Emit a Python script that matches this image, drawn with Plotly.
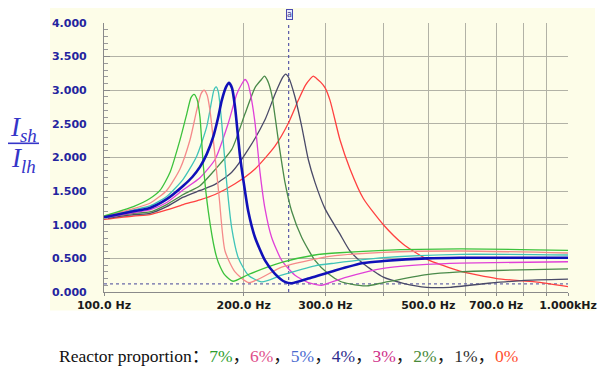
import plotly.graph_objects as go

# ---------------- data ----------------
freq_7 = [100, 115.7, 125.6, 132.0, 138.8, 145.8, 150.8, 154.0, 156.3, 158.6, 161.0, 163.7, 167.8, 173.5, 176.4, 182.3, 189.7, 204.6, 241.5, 284.9, 314.8, 400, 585, 1000]
val_7 = [1.13, 1.27, 1.39, 1.51, 1.78, 2.26, 2.65, 2.89, 2.94, 2.87, 2.60, 1.88, 1.20, 0.61, 0.44, 0.25, 0.16, 0.26, 0.44, 0.55, 0.58, 0.62, 0.64, 0.62]

freq_6 = [100, 115.7, 125.6, 136.5, 145.8, 153.2, 158.4, 161.9, 164.3, 166.8, 169.2, 173.5, 177.2, 182.3, 191.6, 205.4, 241.5, 284.9, 314.8, 400, 585, 1000]
val_6 = [1.12, 1.24, 1.32, 1.51, 1.83, 2.26, 2.70, 2.95, 3.00, 2.93, 2.70, 2.02, 1.39, 0.61, 0.30, 0.14, 0.37, 0.49, 0.54, 0.59, 0.61, 0.58]

freq_5 = [100, 115.7, 125.6, 136.5, 148.2, 158.4, 166.5, 170.7, 172.5, 174.4, 176.3, 179.4, 183.8, 188.5, 194.7, 204.6, 218.7, 241.5, 284.9, 314.8, 400, 585, 1000]
val_5 = [1.12, 1.22, 1.28, 1.42, 1.68, 2.02, 2.46, 2.85, 3.00, 3.05, 2.98, 2.51, 1.63, 0.95, 0.51, 0.25, 0.15, 0.25, 0.39, 0.43, 0.51, 0.56, 0.55]

freq_4 = [100, 115.7, 125.6, 136.5, 148.2, 155.0, 161.0, 166.5, 172.0, 176.0, 179.4, 183.3, 186.0, 188.8, 191.6, 196.4, 200.0, 204.6, 211.6, 222.3, 233.6, 245.5, 253.8, 275.6, 314.8, 362.2, 400, 496, 585, 1000]
val_4 = [1.11, 1.20, 1.25, 1.38, 1.58, 1.71, 1.86, 2.05, 2.31, 2.58, 2.85, 3.05, 3.11, 3.03, 2.75, 2.02, 1.63, 1.20, 0.81, 0.47, 0.27, 0.15, 0.13, 0.20, 0.32, 0.43, 0.46, 0.50, 0.51, 0.51]

freq_3 = [100, 115.7, 125.6, 136.5, 148.2, 161.0, 173.5, 185.3, 193.2, 198.4, 201.3, 204.3, 208.1, 211.6, 216.9, 222.3, 229.8, 241.5, 258.0, 275.6, 294.5, 307, 333.5, 400, 496, 585, 1000]
val_3 = [1.10, 1.18, 1.22, 1.33, 1.52, 1.70, 1.97, 2.51, 2.94, 3.10, 3.16, 3.10, 2.85, 2.51, 1.78, 1.24, 0.81, 0.47, 0.25, 0.14, 0.10, 0.14, 0.22, 0.35, 0.41, 0.43, 0.45]

freq_2 = [100, 115.7, 125.6, 136.5, 148.2, 161.0, 173.5, 188.5, 201.3, 211.6, 218.4, 221.6, 224.9, 229.8, 237.5, 245.5, 253.8, 266.8, 284.9, 304.4, 322.6, 339, 368.5, 400, 496, 585, 702, 1000]
val_2 = [1.10, 1.17, 1.19, 1.30, 1.45, 1.58, 1.82, 2.12, 2.65, 3.04, 3.16, 3.21, 3.15, 2.94, 2.26, 1.63, 1.20, 0.81, 0.47, 0.27, 0.16, 0.12, 0.09, 0.14, 0.26, 0.30, 0.32, 0.345]

freq_1 = [100, 115.7, 125.6, 136.5, 148.2, 161.0, 173.5, 188.5, 204.6, 222.3, 233.6, 242.7, 246.3, 250.0, 258.0, 266.8, 275.6, 284.9, 299.4, 314.8, 322.6, 339, 362.2, 400, 441.6, 496, 556.8, 673, 794.7, 1000]
val_1 = [1.09, 1.15, 1.17, 1.27, 1.41, 1.51, 1.60, 1.78, 2.12, 2.56, 2.94, 3.19, 3.24, 3.19, 2.90, 2.46, 1.97, 1.63, 1.24, 0.98, 0.86, 0.61, 0.42, 0.22, 0.13, 0.07, 0.07, 0.13, 0.17, 0.19]

freq_0 = [100, 115.7, 125.6, 136.5, 148.2, 161.0, 173.5, 191.6, 211.6, 233.6, 249.6, 262.2, 272.0, 278.3, 282.5, 286.7, 293.0, 299.4, 307, 322.6, 339, 362.2, 400, 441.6, 496, 585, 702, 850, 1000]
val_0 = [1.08, 1.13, 1.15, 1.22, 1.30, 1.37, 1.45, 1.61, 1.83, 2.17, 2.51, 2.85, 3.08, 3.17, 3.21, 3.18, 3.12, 3.04, 2.85, 2.26, 1.83, 1.39, 1.00, 0.71, 0.49, 0.31, 0.20, 0.15, 0.08]

cursor_freq = 250
cursor_level = 0.12
freq_range = [100, 1000]

x_tickvals = [100, 200, 300, 500, 700, 1000]
x_ticktext = ["100.0 Hz", "200.0 Hz", "300.0 Hz", "500.0 Hz", "700.0 Hz", "1.000kHz"]
x_minor_gridvals = [400, 600, 800, 900]

series_labels = ["7%", "6%", "5%", "4%", "3%", "2%", "1%", "0%"]
line_colors = ["#3cc23c", "#f58a8a", "#3fc4b8", "#1010b8", "#e040d8", "#4a8a4a", "#4a4a68", "#ff4040"]
label_colors = ["#2e9e2e", "#e0508a", "#4a6ad0", "#2c2c8c", "#d0308a", "#4a8a3a", "#303030", "#ff5030"]

# ---------------- figure ----------------
cream = "#fdfde8"
grid = "#b2b2a6"
fig = go.Figure()

# cursor lines
fig.add_trace(go.Scatter(x=freq_range, y=[cursor_level, cursor_level], mode="lines",
                         line=dict(color="#6a6aa8", width=1.2, dash="dot"), hoverinfo="skip"))
fig.add_trace(go.Scatter(x=[cursor_freq, cursor_freq], y=[0, 4], mode="lines",
                         line=dict(color="#5a5aa8", width=1.2, dash="dot"), hoverinfo="skip"))

series = [
    (freq_0, val_0, 7), (freq_1, val_1, 6), (freq_2, val_2, 5), (freq_3, val_3, 4),
    (freq_5, val_5, 2), (freq_6, val_6, 1), (freq_7, val_7, 0), (freq_4, val_4, 3),
]
for fx, fy, idx in series:
    fig.add_trace(go.Scatter(
        x=fx, y=fy, mode="lines", name=series_labels[idx],
        line=dict(color=line_colors[idx], width=2.6 if idx == 3 else 1.3,
                  shape="spline", smoothing=0.6)))

tick_font = dict(family="DejaVu Sans", size=11, weight="bold")

fig.update_xaxes(type="log", range=[2, 3], tickvals=x_tickvals, ticktext=x_ticktext,
                 showgrid=True, gridcolor=grid, gridwidth=1.2,
                 ticks="outside", ticklen=3, tickcolor="#8a8a8a",
                 minor=dict(tickvals=x_minor_gridvals, showgrid=True, gridcolor=grid, gridwidth=1.2,
                            ticks="outside", ticklen=3, tickcolor="#8a8a8a"),
                 showline=True, linecolor="#8a8a8a", linewidth=1.2,
                 zeroline=False, tickfont=dict(color="#1a1a1a", **tick_font))
fig.update_yaxes(range=[0, 4], dtick=0.5, tickformat=".3f",
                 showgrid=True, gridcolor=grid, gridwidth=1.2,
                 ticks="inside", ticklen=6, tickcolor="#8a8a8a",
                 minor=dict(dtick=0.1, ticks="inside", ticklen=4, tickcolor="#9a9a9a", showgrid=False),
                 showline=True, linecolor="#8a8a8a", linewidth=1.2,
                 zeroline=False, ticklabelstandoff=14,
                 tickfont=dict(color="#24249e", **tick_font))

# the page body adds an 8px margin; lay the figure out in page pixels
O = 8
W, H = 613 - O, 382 - O
L, T = 104 - O, 17 - O
R = W - (568 - O)
B = H - (292 - O)
pw, ph = W - L - R, H - T - B


def px(xp):
    return (xp - O - L) / pw


def py(yp):
    return (H - B - (yp - O)) / ph


shapes = [
    dict(type="rect", xref="paper", yref="paper", x0=px(50), x1=px(595), y0=py(311), y1=py(0),
         fillcolor=cream, line=dict(width=0), layer="below"),
    dict(type="line", xref="paper", yref="paper", x0=px(8), x1=px(39), y0=py(140), y1=py(140),
         line=dict(color="#3535c8", width=1.6)),
]

ann = []
# y-axis fraction label
ann.append(dict(xref="paper", yref="paper", x=px(23), y=py(125), xanchor="center", yanchor="middle",
                text="<i>I</i><sub><i>sh</i></sub>", showarrow=False,
                font=dict(family="Liberation Serif", size=27, color="#3535c8")))
ann.append(dict(xref="paper", yref="paper", x=px(23), y=py(157), xanchor="center", yanchor="middle",
                text="<i>I</i><sub><i>lh</i></sub>", showarrow=False,
                font=dict(family="Liberation Serif", size=27, color="#3535c8")))
# cursor marker
ann.append(dict(xref="paper", yref="paper", x=px(289), y=py(8), xanchor="center", yanchor="middle",
                text="a", showarrow=False, bgcolor="#e6eafd", bordercolor="#4a4ab0", borderwidth=1,
                borderpad=0, font=dict(family="DejaVu Sans", size=8, color="#3a3a90")))
# bottom legend text
parts = ["Reactor proportion："]
for i, lab in enumerate(series_labels):
    parts.append(f"<span style='color:{label_colors[i]}'>{lab}</span>")
    if i < len(series_labels) - 1:
        parts.append("，")
ann.append(dict(xref="paper", yref="paper", x=px(57), y=py(357), xanchor="left", yanchor="middle",
                text="".join(parts), showarrow=False,
                font=dict(family="Liberation Serif, Noto Sans CJK SC", size=17.5, color="#111111")))

fig.update_layout(width=W, height=H, margin=dict(l=L, r=R, t=T, b=B),
                  paper_bgcolor="white", plot_bgcolor=cream, showlegend=False,
                  shapes=shapes, annotations=ann)

fig.write_html("out.html")
